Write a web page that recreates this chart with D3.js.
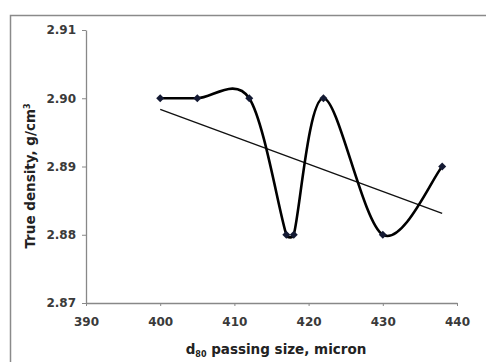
<!DOCTYPE html>
<html lang="en">
<head>
<meta charset="UTF-8">
<title>True density vs d80</title>
<script src="https://d3js.org/d3.v7.min.js"></script>
<style>
    body { margin: 0; padding: 0; background: #fff; }
    svg { display: block; font-family: "DejaVu Sans", Verdana, sans-serif; }
    .domain, .tick line { stroke: #888; }
    .title { font-size: 13.5px; font-weight: bold; fill: #222; }
</style>
</head>
<body>
<svg id="chart" width="486" height="362"></svg>
<script>
// data
const sizes = [400, 405, 412, 417, 418, 422, 430, 438];
const density = [2.90, 2.90, 2.90, 2.88, 2.88, 2.90, 2.88, 2.89];
const xTicks = [390, 400, 410, 420, 430, 440];
const yTicks = [2.87, 2.88, 2.89, 2.90, 2.91];

const svg = d3.select('#chart');
const margin = { left: 86, top: 30, right: 29, bottom: 59 };
const width = 486, height = 362;

// outer chart border
svg.append('rect')
    .attr('x', 10.5).attr('y', 15.5)
    .attr('width', 600).attr('height', 500)
    .attr('fill', 'none')
    .attr('stroke', '#8a8a8a')
    .attr('stroke-width', 1.5);

const x = d3.scaleLinear().domain([390, 440]).range([margin.left, width - margin.right]);
const y = d3.scaleLinear().domain([2.87, 2.91]).range([height - margin.bottom, margin.top]);

function styleTicks(g) {
    g.attr('font-family', '"DejaVu Sans", Verdana, sans-serif')
        .attr('font-size', 12)
        .attr('font-weight', 'bold');
    g.selectAll('.tick text').attr('fill', '#3a3a3a');
}

svg.append('g')
    .attr('transform', `translate(0,${height - margin.bottom})`)
    .call(d3.axisBottom(x).tickValues(xTicks).tickSize(3).tickPadding(11).tickSizeOuter(0))
    .call(styleTicks)
    .call(g => g.selectAll('.tick text').attr('dy', '0.71em'));

svg.append('g')
    .attr('transform', `translate(${margin.left},0)`)
    .call(d3.axisLeft(y).tickValues(yTicks).tickFormat(d3.format('.2f')).tickSize(4).tickPadding(6).tickSizeOuter(0))
    .call(styleTicks);

svg.selectAll('.domain').attr('stroke-width', 1.3);

const pts = sizes.map((s, i) => [s, density[i]]);

// linear trendline (least squares)
const mx = d3.mean(sizes), my = d3.mean(density);
const slope = d3.sum(pts, p => (p[0] - mx) * (p[1] - my)) / d3.sum(sizes, s => (s - mx) * (s - mx));
const trend = s => my + slope * (s - mx);
const xs = d3.extent(sizes);
svg.append('line')
    .attr('x1', x(xs[0])).attr('y1', y(trend(xs[0])))
    .attr('x2', x(xs[1])).attr('y2', y(trend(xs[1])))
    .attr('stroke', '#111')
    .attr('stroke-width', 1.4);

// excel-like smoothed line: catmull-rom bezier, arms capped at half the segment
function smoothPath(p) {
    const path = d3.path();
    const dist = (a, b) => Math.hypot(b[0] - a[0], b[1] - a[1]);
    path.moveTo(p[0][0], p[0][1]);
    for (let i = 0; i < p.length - 1; i++) {
        const p0 = p[Math.max(i - 1, 0)], p1 = p[i], p2 = p[i + 1], p3 = p[Math.min(i + 2, p.length - 1)];
        const d12 = dist(p1, p2), d02 = dist(p0, p2), d13 = dist(p1, p3);
        const f0 = d02 / 6 > d12 / 2 ? d12 / (2 * d02) : 1 / 6;
        const f1 = d13 / 6 > d12 / 2 ? d12 / (2 * d13) : 1 / 6;
        path.bezierCurveTo(
            p1[0] + (p2[0] - p0[0]) * f0, p1[1] + (p2[1] - p0[1]) * f0,
            p2[0] - (p3[0] - p1[0]) * f1, p2[1] - (p3[1] - p1[1]) * f1,
            p2[0], p2[1]);
    }
    return path.toString();
}

svg.append('path')
    .attr('d', smoothPath(pts.map(d => [x(d[0]), y(d[1])])))
    .attr('fill', 'none')
    .attr('stroke', '#000')
    .attr('stroke-width', 2.6);

// diamond markers
svg.selectAll('.mark')
    .data(pts)
    .enter().append('path')
    .attr('class', 'mark')
    .attr('transform', d => `translate(${x(d[0])},${y(d[1])})`)
    .attr('d', 'M0,-4L4,0L0,4L-4,0Z')
    .attr('fill', '#141a33');

// axis titles
svg.append('text')
    .attr('class', 'title')
    .attr('transform', 'translate(35,176) rotate(-90)')
    .attr('text-anchor', 'middle')
    .html('True density, g/cm<tspan dy="-5" font-size="8">3</tspan>');

svg.append('text')
    .attr('class', 'title')
    .attr('x', 276)
    .attr('y', 354)
    .attr('text-anchor', 'middle')
    .html('d<tspan dy="3" font-size="8">80</tspan><tspan dy="-3"> passing size, micron</tspan>');
</script>
</body>
</html>
